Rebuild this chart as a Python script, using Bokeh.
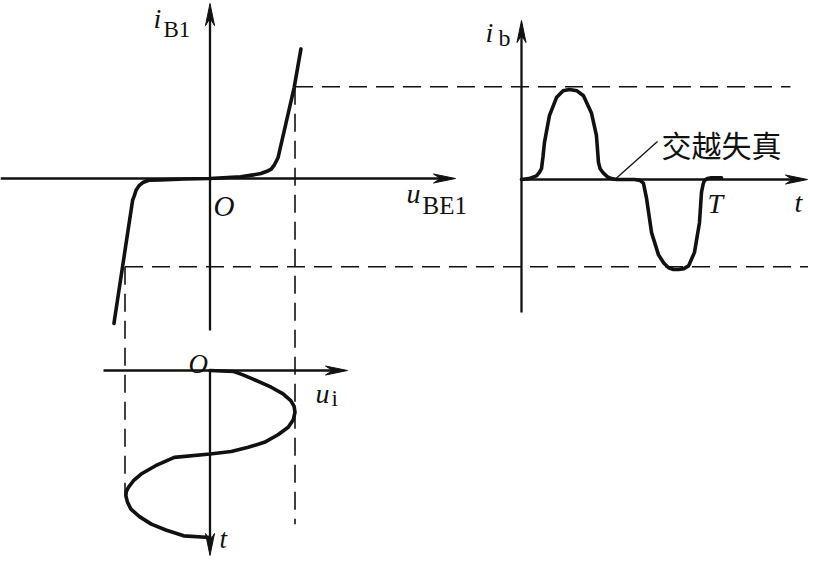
import numpy as np
from bokeh.plotting import figure
from bokeh.models import Range1d, Label
from bokeh.embed import file_html
from bokeh.resources import INLINE

# ---------------- data ----------------
# input characteristic i_B1 = f(u_BE1), normalised units (drive peak u = 1)
char_u = [-1.13, -0.91, -0.89, -0.87, -0.835, -0.79, -0.72, -0.58, -0.30, 0.0,
          0.36, 0.51, 0.60, 0.67, 0.72, 0.76, 0.80, 0.99, 1.07]
char_i = [-1.61, -0.24, -0.19, -0.13, -0.08, -0.045, -0.02, -0.015, -0.005, 0.0,
          0.02, 0.04, 0.055, 0.08, 0.105, 0.155, 0.23, 1.01, 1.44]

# input signal u_i(t), t in periods
ui_t = [0.0, 0.006, 0.025, 0.05, 0.10, 0.14, 0.18, 0.215, 0.25, 0.295, 0.34, 0.385,
        0.43, 0.46, 0.485, 0.50, 0.52, 0.57, 0.62, 0.66, 0.70, 0.725, 0.75, 0.79,
        0.83, 0.875, 0.92, 0.955, 0.99, 1.0]
ui_u = [0.0, 0.28, 0.38, 0.50, 0.72, 0.86, 0.95, 0.99, 1.00, 0.98, 0.92, 0.80,
        0.64, 0.45, 0.25, 0.0, -0.42, -0.64, -0.81, -0.90, -0.96, -0.985, -0.99, -0.97,
        -0.93, -0.83, -0.69, -0.52, -0.31, 0.0]

# output base current i_b(t) with crossover distortion
ib_t = [0.0, 0.04, 0.081, 0.097, 0.108, 0.116, 0.124, 0.151, 0.189, 0.225, 0.259,
        0.300, 0.335, 0.378, 0.405, 0.416, 0.425, 0.443, 0.465, 0.486, 0.514,
        0.611, 0.640, 0.659, 0.676, 0.703, 0.741, 0.770, 0.795, 0.822, 0.849, 0.878,
        0.903, 0.935, 0.962, 0.973, 0.982, 0.989, 1.005, 1.027, 1.081]
ib_i = [0.0, 0.01, 0.04, 0.08, 0.12, 0.25, 0.41, 0.71, 0.91, 0.985, 1.00,
        0.985, 0.93, 0.74, 0.49, 0.19, 0.12, 0.07, 0.03, 0.01, 0.0,
        0.0, -0.01, -0.04, -0.21, -0.59, -0.84, -0.93, -0.98, -1.00, -1.00, -0.99,
        -0.96, -0.81, -0.48, -0.14, -0.05, -0.01, 0.01, 0.02, 0.02]

# peak levels marked by dashed projection lines
u_peak = [1.0, -1.0]
ib_peak = [1.02, -0.98]

# ---------------- layout of the three panels ----------------
L_O = (209.5, 178.0)   # origin of the characteristic panel
B_O = (209.5, 370.0)   # origin of the input-signal panel
R_O = (521.0, 179.0)   # origin of the output panel
SX, SY = 85.0, 90.0    # pixels per unit of u and i
TB, TR = 167.0, 185.0  # pixels per period

def left_xy(u, i):
    return L_O[0] + SX * np.asarray(u), L_O[1] - SY * np.asarray(i)

def bottom_xy(u, t):
    return B_O[0] + SX * np.asarray(u), B_O[1] + TB * np.asarray(t)

def right_xy(t, i):
    return R_O[0] + TR * np.asarray(t), R_O[1] - SY * np.asarray(i)

INK = "#111111"

p = figure(width=808, height=559, x_range=Range1d(0, 808), y_range=Range1d(559, 0),
           output_backend="svg", toolbar_location=None, min_border=0,
           x_axis_location=None, y_axis_location=None)
p.grid.visible = False
p.outline_line_color = None
p.background_fill_color = "white"
p.border_fill_color = "white"


def axis_arrow(x0, y0, x1, y1, length=22, half=4.5, notch=15):
    d = np.array([x1 - x0, y1 - y0], dtype=float)
    d /= np.hypot(*d)
    n = np.array([-d[1], d[0]])
    tip = np.array([x1, y1], dtype=float)
    base = tip - d * notch
    p.line([x0, base[0]], [y0, base[1]], line_color=INK, line_width=2.3)
    c1 = tip - d * length + n * half
    c2 = tip - d * length - n * half
    p.patch([tip[0], c1[0], base[0], c2[0]], [tip[1], c1[1], base[1], c2[1]],
            fill_color=INK, line_color=INK, line_width=1)


# axes
axis_arrow(0, L_O[1], 455, L_O[1])            # u_BE1
axis_arrow(L_O[0], 330, L_O[0], 3)            # i_B1
axis_arrow(103, B_O[1], 347, B_O[1])          # u_i
axis_arrow(B_O[0], B_O[1], B_O[0], 555)       # t (down)
axis_arrow(R_O[0], 312, R_O[0], 20)           # i_b
axis_arrow(R_O[0], R_O[1], 807, R_O[1])       # t

# dashed projection lines
dash = dict(line_color=INK, line_width=1.6, line_dash="18 9")
xr, yt = left_xy(u_peak[0], ib_peak[0])
xl, yb = left_xy(u_peak[1], ib_peak[1])
p.line([xr, 790], [yt, yt], **dash)
p.line([xl, 824], [yb, yb], **dash)
p.line([xr, xr], [yt, bottom_xy(0, 0.92)[1]], **dash)
p.line([xl, xl], [yb, bottom_xy(0, 0.745)[1]], **dash)

# curves
cx, cy = left_xy(char_u, char_i)
p.line(cx, cy, line_color=INK, line_width=3.6, line_join="round", line_cap="round")
bx, by = bottom_xy(ui_u, ui_t)
p.line(bx, by, line_color=INK, line_width=3.6, line_join="round", line_cap="round")
rx, ry = right_xy(ib_t, ib_i)
p.line(rx, ry, line_color=INK, line_width=3.6, line_join="round", line_cap="round")

# leader line for the annotation
lx, ly = right_xy(0.505, 0.0)
p.line([lx, 657], [ly, 141], line_color=INK, line_width=1.3)

# labels
def lab(x, y, text, size, italic=True, font="Liberation Serif", baseline="alphabetic"):
    p.add_layout(Label(x=x, y=y, text=text, text_font=font,
                       text_font_size=f"{size}px",
                       text_font_style="italic" if italic else "normal",
                       text_color=INK, text_baseline=baseline, text_align="left"))

lab(153, 18, "i", 28)
lab(163, 29, "B1", 23, italic=False)
lab(406, 193, "u", 28)
lab(422, 205, "BE1", 25, italic=False)
lab(213, 205, "O", 29)
lab(188, 363, "O", 27)
lab(315, 393, "u", 28)
lab(331, 398, "i", 23, italic=False)
lab(219, 538, "t", 27)
lab(485, 32, "i", 28)
lab(498, 37, "b", 24, italic=False)
lab(707, 203, "T", 28)
lab(794, 202, "t", 28)
lab(661, 143, "交越失真", 30, italic=False, font="Noto Sans CJK SC", baseline="middle")

open("out.html", "w").write(file_html(p, INLINE))
